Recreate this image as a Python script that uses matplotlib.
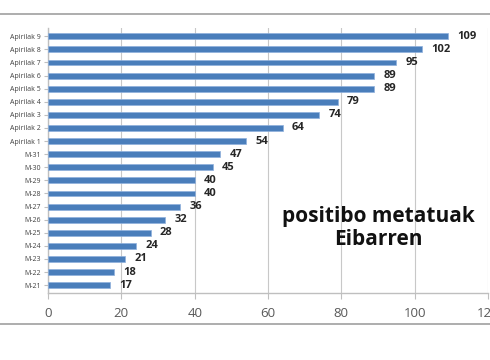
import matplotlib.pyplot as plt
from matplotlib.lines import Line2D

days = ['M-21', 'M-22', 'M-23', 'M-24', 'M-25', 'M-26', 'M-27', 'M-28', 'M-29',
        'M-30', 'M-31', 'Apirilak 1', 'Apirilak 2', 'Apirilak 3', 'Apirilak 4',
        'Apirilak 5', 'Apirilak 6', 'Apirilak 7', 'Apirilak 8', 'Apirilak 9']
cases = [17, 18, 21, 24, 28, 32, 36, 40, 40, 45, 47, 54, 64, 74, 79, 89, 89, 95, 102, 109]
ticks = [0, 20, 40, 60, 80, 100, 120]

plt.rcParams['font.family'] = ['Open Sans', 'DejaVu Sans']

fig = plt.figure(figsize=(4.9, 3.6), dpi=100)
ax = fig.add_axes([0.098, 0.186, 0.898, 0.735])

ypos = range(len(days))
ax.barh(ypos, cases, height=0.45, color='#4a7ebb', edgecolor='#8fb0dc', linewidth=0.5, zorder=3)
for y, v in zip(ypos, cases):
    ax.text(v + 2.5, y, str(v), va='center', ha='left', fontsize=8,
            fontweight='bold', color='#262626')

ax.set_xlim(0, 120)
ax.set_ylim(-0.6, len(days) - 0.4)
ax.set_xticks(ticks)
ax.set_yticks(list(ypos))
ax.set_yticklabels(days, fontsize=5, color='#404040')
ax.tick_params(axis='x', labelsize=9.5, colors='#595959', length=4, color='#bfbfbf', pad=6)
ax.tick_params(axis='y', length=3, color='#bfbfbf', pad=2)
ax.grid(axis='x', color='#c8c8c8', linewidth=0.8, zorder=0)
for s in ['top', 'right']:
    ax.spines[s].set_visible(False)
for s in ['left', 'bottom']:
    ax.spines[s].set_color('#bfbfbf')
    ax.spines[s].set_linewidth(1)

ax.text(378 / 490, 1 - 228 / 360, 'positibo metatuak\nEibarren', transform=fig.transFigure,
        ha='center', va='center', fontsize=15, fontweight='bold', color='#111111',
        multialignment='center', linespacing=1.15)

fig.add_artist(Line2D([0, 1], [1 - 14 / 360, 1 - 14 / 360], color='#a0a0a0', linewidth=1.2))
fig.add_artist(Line2D([0, 1], [1 - 324 / 360, 1 - 324 / 360], color='#a0a0a0', linewidth=1.2))

fig.savefig('out.png', dpi=100)
